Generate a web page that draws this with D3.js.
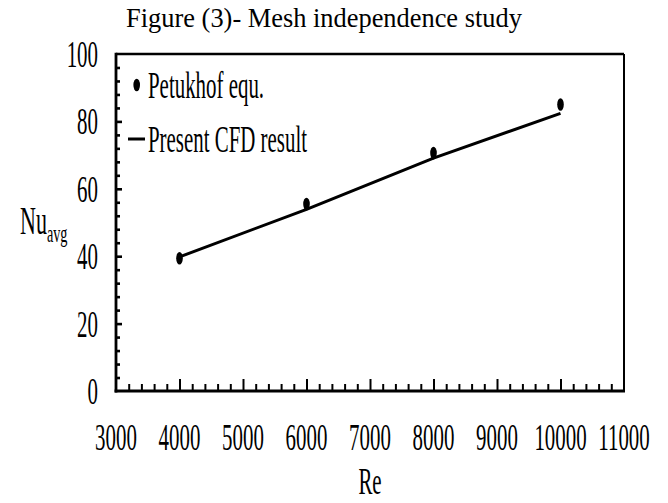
<!DOCTYPE html>
<html>
<head>
<meta charset="utf-8">
<script src="https://cdn.jsdelivr.net/npm/d3@7"></script>
<style>
  html, body { margin: 0; padding: 0; background: #fff; }
  svg { display: block; }
  text { font-family: "Liberation Serif", "Times New Roman", serif; fill: #000; }
</style>
</head>
<body>
<svg id="chart" width="668" height="503"></svg>
<script>
// Reynolds numbers and average Nusselt numbers
const reynolds = [4000, 6000, 8000, 10000];
const petukhofNu = [39.4, 55.5, 70.6, 85.0];
const cfdNu = [39.8, 53.9, 69.1, 82.4];

const xTickValues = [3000, 4000, 5000, 6000, 7000, 8000, 9000, 10000, 11000];
const yTickValues = [0, 20, 40, 60, 80, 100];

const titleText = "Figure (3)- Mesh independence study";
const legendLabels = ["Petukhof equ.", "Present CFD result"];

const W = 668, H = 503;
const margin = { left: 116, right: 44, top: 54, bottom: 112 };
const svg = d3.select("#chart");

const x = d3.scaleLinear().domain([3000, 11000]).range([margin.left, W - margin.right]);
const y = d3.scaleLinear().domain([0, 100]).range([H - margin.bottom, margin.top]);

const FS = 38;      // condensed serif used inside the figure
const SX = 0.55;    // horizontal squeeze of that lettering

function squeezedText(g, px, py, str, size, anchor) {
  return g.append("text")
    .attr("transform", `translate(${px},${py}) scale(${SX},1)`)
    .attr("font-size", size)
    .attr("text-anchor", anchor)
    .text(str);
}

// Title
svg.append("text")
  .attr("x", 324).attr("y", 27)
  .attr("text-anchor", "middle")
  .attr("font-size", 26.4)
  .text(titleText);

// Minor/major ticks pointing inward
const xMinor = d3.range(3200, 11000, 200).filter(v => v % 1000 !== 0);
const xMajor = d3.range(4000, 11000, 1000);
const yMinor = d3.range(4, 100, 4).filter(v => v % 20 !== 0);
const yMajor = [20, 40, 60, 80];

const axisX = svg.append("g").attr("transform", `translate(0,${y(0)})`);
axisX.call(d3.axisBottom(x).tickValues(xMinor).tickSize(-7).tickFormat(""))
  .call(g => g.select(".domain").remove())
  .call(g => g.selectAll("line").attr("stroke", "#000").attr("stroke-width", 2));
const axisXMajor = svg.append("g").attr("transform", `translate(0,${y(0)})`);
axisXMajor.call(d3.axisBottom(x).tickValues(xMajor).tickSize(-12).tickFormat(""))
  .call(g => g.select(".domain").remove())
  .call(g => g.selectAll("line").attr("stroke", "#000").attr("stroke-width", 2));

const axisY = svg.append("g").attr("transform", `translate(${x(3000)},0)`);
axisY.call(d3.axisLeft(y).tickValues(yMinor).tickSize(-4).tickFormat(""))
  .call(g => g.select(".domain").remove())
  .call(g => g.selectAll("line").attr("stroke", "#000").attr("stroke-width", 2.6));
const axisYMajor = svg.append("g").attr("transform", `translate(${x(3000)},0)`);
axisYMajor.call(d3.axisLeft(y).tickValues(yMajor).tickSize(-6).tickFormat(""))
  .call(g => g.select(".domain").remove())
  .call(g => g.selectAll("line").attr("stroke", "#000").attr("stroke-width", 2.6));

// Frame
svg.append("line").attr("x1", x(3000)).attr("x2", x(11000)).attr("y1", y(100)).attr("y2", y(100))
  .attr("stroke", "#000").attr("stroke-width", 2.4);
svg.append("line").attr("x1", x(11000)).attr("x2", x(11000)).attr("y1", y(100)).attr("y2", y(0))
  .attr("stroke", "#000").attr("stroke-width", 2);
svg.append("line").attr("x1", x(3000)).attr("x2", x(3000)).attr("y1", y(100) - 1.2).attr("y2", y(0) + 1.5)
  .attr("stroke", "#000").attr("stroke-width", 2.8);
svg.append("line").attr("x1", x(3000) - 1.4).attr("x2", x(11000) + 1).attr("y1", y(0)).attr("y2", y(0))
  .attr("stroke", "#000").attr("stroke-width", 3);

// Tick labels
const labels = svg.append("g");
xTickValues.forEach(v => squeezedText(labels, x(v), 450, String(v), FS, "middle"));
yTickValues.forEach(v => squeezedText(labels, 98, y(v) + 13, String(v), FS, "end"));

// Axis titles
squeezedText(svg, x(7000), 494, "Re", FS, "middle");
const nu = svg.append("text")
  .attr("transform", `translate(20,234) scale(${SX},1)`)
  .attr("font-size", FS + 2);
nu.append("tspan").text("Nu");
nu.append("tspan").attr("font-size", 26).attr("dy", 8).text("avg");

// CFD line
const pts = reynolds.map((r, i) => ({ re: r, cfd: cfdNu[i], pet: petukhofNu[i] }));
svg.append("path")
  .datum(pts)
  .attr("fill", "none")
  .attr("stroke", "#000")
  .attr("stroke-width", 3)
  .attr("d", d3.line().x(d => x(d.re)).y(d => y(d.cfd)));

// Petukhof correlation markers
svg.append("g").selectAll("ellipse")
  .data(pts)
  .join("ellipse")
  .attr("cx", d => x(d.re))
  .attr("cy", d => y(d.pet))
  .attr("rx", 3.3)
  .attr("ry", 6.3)
  .attr("fill", "#000");

// Legend
const lg = svg.append("g");
lg.append("ellipse").attr("cx", 136.7).attr("cy", 85).attr("rx", 3.3).attr("ry", 6.3).attr("fill", "#000");
squeezedText(lg, 148, 98, legendLabels[0], FS, "start");
lg.append("line").attr("x1", 128).attr("x2", 145).attr("y1", 139).attr("y2", 139)
  .attr("stroke", "#000").attr("stroke-width", 3);
squeezedText(lg, 148, 152, legendLabels[1], FS, "start");
</script>
</body>
</html>
